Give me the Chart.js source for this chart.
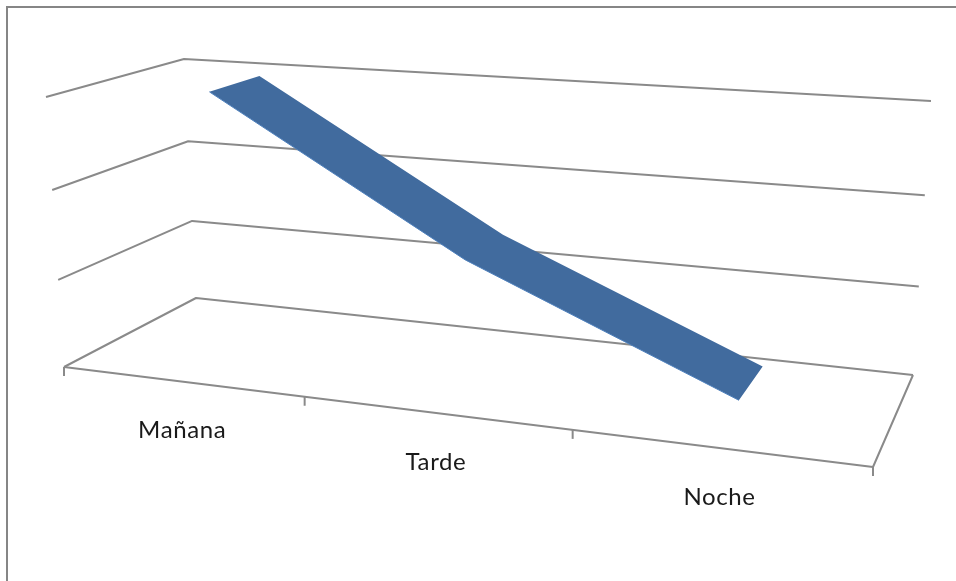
<!DOCTYPE html>
<html>
<head>
<meta charset="utf-8">
<style>
  html, body { margin: 0; background: #fff; }
  #wrap { position: relative; width: 956px; height: 581px; overflow: hidden; }
  #frame { position: absolute; left: 6px; top: 6px; right: 0; bottom: 0; border-left: 2px solid #868686; border-top: 2px solid #868686; }
  canvas { position: absolute; left: 0; top: 0; }
</style>
<script src="https://cdn.jsdelivr.net/npm/chart.js@4"></script>
</head>
<body>
<div id="wrap">
  <div id="frame"></div>
  <canvas id="chart" width="956" height="581"></canvas>
</div>
<script>
const categories = ['Mañana', 'Tarde', 'Noche'];
const seriesValues = [3, 1.4, 0.2];
const valueMin = 0;
const valueMax = 3;
const valueStep = 1;

// ─── Box Projection ─────────────────────────────────────────────────────────

// Screen corners of the 3D box: floor and ceiling, front/back, left/right
const FLOOR = { fl: [64, 367], fr: [873, 467], bl: [196, 298], br: [913, 375] };
const CEILING = { fl: [46, 97], fr: [892, 152], bl: [184, 59], br: [931, 101] };
const FORESHORTEN = 0.05;
const FORESHORTEN_X = 0.02;
const RIBBON_DEPTH = [0.3, 0.7];
const TICK_LENGTH = 9;
const LABEL_DROP = 49;

function makeHomography(q) {
  const [x0, y0] = q.fl, [x1, y1] = q.fr, [x2, y2] = q.bl, [x3, y3] = q.br;
  const dx1 = x1 - x3, dx2 = x2 - x3, sx = x0 - x1 + x3 - x2;
  const dy1 = y1 - y3, dy2 = y2 - y3, sy = y0 - y1 + y3 - y2;
  const den = dx1 * dy2 - dx2 * dy1;
  const g = (sx * dy2 - dx2 * sy) / den;
  const h = (dx1 * sy - sx * dy1) / den;
  const a = x1 - x0 + g * x1, b = x2 - x0 + h * x2;
  const d = y1 - y0 + g * y1, e = y2 - y0 + h * y2;
  return (u, v) => {
    const w = g * u + h * v + 1;
    return [(a * u + b * v + x0) / w, (d * u + e * v + y0) / w];
  };
}

const floorMap = makeHomography(FLOOR);
const ceilingMap = makeHomography(CEILING);

// u: across the categories, depth: front to back, t: height, all 0..1
function project(u, depth, t) {
  const s = t / (1 + FORESHORTEN * (1 - t));
  const r = u / (1 + FORESHORTEN_X * (1 - u));
  const lo = floorMap(r, depth);
  const hi = ceilingMap(r, depth);
  return [lo[0] + (hi[0] - lo[0]) * s, lo[1] + (hi[1] - lo[1]) * s];
}

function polyline(ctx, pts, close) {
  ctx.beginPath();
  pts.forEach((p, i) => (i ? ctx.lineTo(p[0], p[1]) : ctx.moveTo(p[0], p[1])));
  if (close) ctx.closePath();
}

// ─── Ribbon Plugin ──────────────────────────────────────────────────────────

const box3dPlugin = {
  id: 'box3d',
  afterDatasetsDraw(chart) {
    const { ctx, chartArea: area, scales: { x, y } } = chart;
    const toU = px => (px - area.left) / (area.right - area.left);
    const toT = py => (area.bottom - py) / (area.bottom - area.top);

    ctx.save();
    ctx.lineJoin = 'round';
    ctx.strokeStyle = '#8a8a8a';
    ctx.lineWidth = 2;

    // value gridlines run along the left and back walls
    y.ticks.forEach(tick => {
      const t = toT(y.getPixelForValue(tick.value));
      polyline(ctx, [project(0, 0, t), project(0, 1, t), project(1, 1, t)]);
      ctx.stroke();
    });

    // floor edges closing the box
    polyline(ctx, [project(1, 1, 0), project(1, 0, 0), project(0, 0, 0)]);
    ctx.stroke();

    // tick marks at the category band edges
    categories.concat('').forEach((_, i) => {
      const p = project(toU(x.getPixelForValue(i - 0.5)), 0, 0);
      polyline(ctx, [p, [p[0], p[1] + TICK_LENGTH]]);
      ctx.stroke();
    });

    // ribbon from the line dataset's own points
    const points = chart.getDatasetMeta(0).data;
    const front = points.map(pt => project(toU(pt.x), RIBBON_DEPTH[0], toT(pt.y)));
    const back = points.map(pt => project(toU(pt.x), RIBBON_DEPTH[1], toT(pt.y)));
    polyline(ctx, front.concat(back.slice().reverse()), true);
    ctx.fillStyle = '#416B9E';
    ctx.fill();
    polyline(ctx, front);
    ctx.strokeStyle = '#4F81BD';
    ctx.lineWidth = 1;
    ctx.stroke();

    // category labels hang below the floor's front edge
    ctx.font = '24px Lato, "Open Sans", sans-serif';
    ctx.letterSpacing = '0.6px';
    ctx.fillStyle = '#1a1a1a';
    ctx.textAlign = 'center';
    ctx.textBaseline = 'middle';
    points.forEach((pt, i) => {
      const p = project(toU(pt.x), 0, 0);
      ctx.fillText(x.getLabelForValue(i), p[0] + 1, p[1] + LABEL_DROP);
    });
    ctx.restore();
  }
};

// ─── Chart ──────────────────────────────────────────────────────────────────

new Chart(document.getElementById('chart'), {
  type: 'line',
  data: {
    labels: categories,
    datasets: [{
      label: 'Serie 1',
      data: seriesValues,
      showLine: false,
      pointRadius: 0
    }]
  },
  plugins: [box3dPlugin],
  options: {
    responsive: false,
    animation: false,
    layout: { padding: 0 },
    plugins: {
      legend: { display: false },
      tooltip: { enabled: false }
    },
    scales: {
      x: { display: false, offset: true },
      y: { display: false, min: valueMin, max: valueMax, ticks: { stepSize: valueStep } }
    }
  }
});
</script>
</body>
</html>
